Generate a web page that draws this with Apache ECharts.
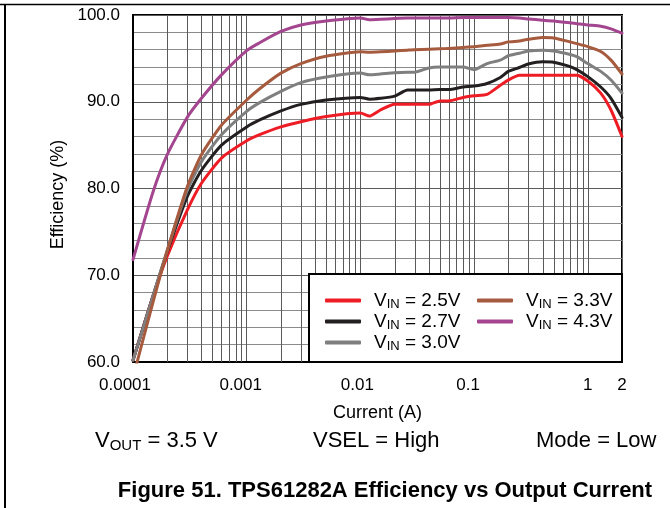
<!DOCTYPE html>
<html>
<head>
<meta charset="utf-8">
<script src="https://cdn.jsdelivr.net/npm/echarts@6/dist/echarts.min.js"></script>
<style>
html,body{margin:0;padding:0;background:#fff;}
#chart{width:670px;height:508px;}
</style>
</head>
<body>
<div id="chart"></div>
<script>
// ---- Data ----
const currents = [0.0001, 0.00015, 0.0002, 0.0003, 0.0004, 0.0006, 0.001, 0.0013, 0.002, 0.003, 0.005,
  0.01, 0.012, 0.015, 0.02, 0.026, 0.03, 0.04, 0.05, 0.06, 0.08, 0.1, 0.13, 0.17, 0.2, 0.25, 0.3,
  0.4, 0.5, 0.7, 0.8, 1.0, 1.3, 1.6, 2.0];

const effVin25 = [60.2, 67.6, 72.2, 77.5, 80.6, 83.5, 85.5, 86.2, 87.1, 87.7, 88.3,
  88.7, 88.35, 89.05, 89.7, 89.7, 89.7, 89.7, 90.1, 90.1, 90.5, 90.7, 90.85, 91.9, 92.5, 93.05, 93.05,
  93.05, 93.05, 93.05, 93.05, 92.4, 91.0, 89.05, 86.0];

const effVin27 = [60.2, 67.6, 72.7, 79.05, 82.1, 85.0, 87.1, 87.9, 88.95, 89.7, 90.2,
  90.5, 90.3, 90.4, 90.65, 91.35, 91.35, 91.35, 91.4, 91.4, 91.7, 91.8, 92.1, 92.8, 93.5, 93.95, 94.35,
  94.6, 94.55, 94.05, 93.7, 92.9, 91.7, 90.4, 88.2];

const effVin30 = [60.2, 67.6, 72.9, 79.8, 83.1, 86.2, 88.9, 89.9, 91.2, 92.2, 92.85,
  93.3, 93.1, 93.2, 93.35, 93.4, 93.4, 93.9, 94.0, 94.0, 94.0, 93.7, 94.4, 94.8, 95.3, 95.6, 95.85,
  95.95, 95.85, 95.45, 95.2, 94.4, 93.5, 92.5, 91.0];

const effVin33 = [58.2, 66.9, 72.8, 80.2, 83.9, 87.3, 90.2, 91.5, 93.3, 94.4, 95.25,
  95.75, 95.7, 95.75, 95.85, 95.95, 96.0, 96.05, 96.1, 96.15, 96.25, 96.35, 96.5, 96.65, 96.9, 97.0, 97.2,
  97.4, 97.35, 96.9, 96.7, 96.35, 95.8, 94.8, 93.2];

const effVin43 = [71.8, 79.6, 83.9, 88.2, 90.4, 93.1, 95.9, 96.8, 98.1, 98.85, 99.3,
  99.65, 99.45, 99.5, 99.6, 99.65, 99.65, 99.65, 99.65, 99.65, 99.7, 99.7, 99.7, 99.7, 99.7, 99.65, 99.55,
  99.4, 99.3, 99.1, 99.0, 98.85, 98.7, 98.4, 97.9];

const seriesNames = ['2.5V', '2.7V', '3.0V', '3.3V', '4.3V'];
const seriesData = [effVin25, effVin27, effVin30, effVin33, effVin43];
const seriesColors = ['#ee1d25', '#231f20', '#7f7f7f', '#a65a3e', '#a3458f'];

const yTicks = [60, 70, 80, 90, 100];
const decadeStarts = [0.0001, 0.001, 0.01, 0.1, 1];
const minorMultipliers = [2, 3, 4, 5, 6, 7, 8, 9];

// ---- Build options ----
const FONT = '"Liberation Sans", Arial, Helvetica, sans-serif';
const xMin = 0.0001, xMax = 2;
const yMin = yTicks[0], yMax = yTicks[yTicks.length - 1];
const minorGridCurrents = [];
decadeStarts.forEach(d => minorMultipliers.forEach(m => {
  const v = Number((d * m).toPrecision(3));
  if (v < xMax) minorGridCurrents.push(v);
}));

const richSub = {
  n: { fontSize: 19, fontFamily: FONT, color: '#000', lineHeight: 21 },
  s: { fontSize: 13, fontFamily: FONT, color: '#000', lineHeight: 10, verticalAlign: 'bottom' }
};

// x tick label nudges (label style only)
const xLabelPad = { '0.0001': 16, '0.001': 12, '0.01': 6, '0.1': 12 };
const xLabelRich = {};
Object.keys(xLabelPad).forEach((k, i) => {
  xLabelRich['p' + i] = { fontSize: 17, fontFamily: FONT, color: '#000', padding: [0, xLabelPad[k], 0, 0] };
});

const lineSeries = seriesNames.map((name, i) => ({
  name: name,
  type: 'line',
  data: currents.map((c, k) => [c, seriesData[i][k]]),
  showSymbol: false,
  symbol: 'none',
  smooth: 0.2,
  z: 5 + i,
  lineStyle: { color: seriesColors[i], width: 3, cap: 'round', join: 'round' },
  itemStyle: { color: seriesColors[i] },
  emphasis: { disabled: true }
}));

const gridSeries = {
  name: 'minorGrid',
  type: 'custom',
  z: 1,
  silent: true,
  clip: true,
  data: minorGridCurrents.map(v => [v, yMin]),
  encode: { x: 0, y: 1 },
  renderItem: (params, api) => {
    const v = api.value(0);
    const p1 = api.coord([v, yMin]);
    const p2 = api.coord([v, yMax]);
    const x = Math.round(p1[0]) + 0.5;
    return {
      type: 'line',
      shape: { x1: x, y1: p1[1], x2: x, y2: p2[1] },
      style: { stroke: '#5a5a5a', lineWidth: 1 }
    };
  }
};

const legendCommon = {
  orient: 'vertical',
  icon: 'roundRect',
  itemWidth: 36,
  itemHeight: 4,
  itemGap: 1,
  selectedMode: false,
  z: 60,
  formatter: name => '{n|V}{s|IN}{n| = ' + name + '}',
  textStyle: { padding: [0, 0, 0, 8], rich: richSub }
};

const option = {
  animation: false,
  backgroundColor: '#fff',
  grid: {
    left: 133, right: 48, top: 15, bottom: 146,
    show: true, borderColor: '#000', borderWidth: 2,
    outerBoundsMode: 'none', containLabel: false
  },
  xAxis: {
    type: 'log',
    logBase: 10,
    min: xMin,
    max: xMax,
    name: 'Current (A)',
    nameLocation: 'middle',
    nameGap: 42,
    nameTextStyle: { fontSize: 18, fontFamily: FONT, color: '#000' },
    axisLine: { show: true, lineStyle: { color: '#000', width: 2 } },
    axisTick: { show: false },
    axisLabel: {
      fontSize: 17, fontFamily: FONT, color: '#000', margin: 15,
      showMinLabel: true, showMaxLabel: true,
      rich: xLabelRich,
      formatter: v => {
        const s = String(Number(Number(v).toPrecision(6)));
        const idx = Object.keys(xLabelPad).indexOf(s);
        return idx >= 0 ? '{p' + idx + '|' + s + '}' : s;
      }
    },
    splitLine: { show: true, lineStyle: { color: '#5a5a5a', width: 1 } }
  },
  yAxis: {
    type: 'value',
    min: yMin,
    max: yMax,
    interval: 10,
    name: 'Efficiency (%)',
    nameLocation: 'middle',
    nameGap: 57,
    nameTextStyle: { fontSize: 18, fontFamily: FONT, color: '#000', padding: [0, 12, 0, 0] },
    axisLine: { show: true, lineStyle: { color: '#000', width: 2 } },
    axisTick: { show: false },
    axisLabel: {
      fontSize: 17, fontFamily: FONT, color: '#000', margin: 13,
      formatter: v => Number(v).toFixed(1)
    },
    splitLine: { show: true, lineStyle: { color: '#5a5a5a', width: 1 } },
    minorTick: { show: false, splitNumber: 5 },
    minorSplitLine: { show: true, lineStyle: { color: '#8a8a8a', width: 1 } }
  },
  legend: [
    Object.assign({}, legendCommon, { left: 320, top: 286, data: seriesNames.slice(0, 3) }),
    Object.assign({}, legendCommon, { left: 472, top: 286, data: seriesNames.slice(3) })
  ],
  graphic: [
    { type: 'rect', z: 50, silent: true,
      shape: { x: 309, y: 274, width: 313, height: 88 },
      style: { fill: '#fff', stroke: '#000', lineWidth: 2 } },
    { type: 'line', z: 50, silent: true,
      shape: { x1: 0, y1: 4.5, x2: 670, y2: 4.5 },
      style: { stroke: '#000', lineWidth: 1.5 } },
    { type: 'line', z: 50, silent: true,
      shape: { x1: 5, y1: 4, x2: 5, y2: 508 },
      style: { stroke: '#000', lineWidth: 2 } },
    { type: 'text', z: 50, silent: true, x: 95, y: 441,
      style: { text: '{n|V}{s|OUT}{n| = 3.5 V}', verticalAlign: 'middle', align: 'left',
        rich: { n: { fontSize: 22, fontFamily: FONT, fill: '#000', lineHeight: 25 },
                s: { fontSize: 15, fontFamily: FONT, fill: '#000', lineHeight: 12, verticalAlign: 'bottom' } } } },
    { type: 'text', z: 50, silent: true, x: 313, y: 441,
      style: { text: 'VSEL = High', fontSize: 22, fontFamily: FONT, fill: '#000', verticalAlign: 'middle', align: 'left' } },
    { type: 'text', z: 50, silent: true, x: 536, y: 441,
      style: { text: 'Mode = Low', fontSize: 22, fontFamily: FONT, fill: '#000', verticalAlign: 'middle', align: 'left' } },
    { type: 'text', z: 50, silent: true, x: 385, y: 491,
      style: { text: 'Figure 51. TPS61282A Efficiency vs Output Current', fontSize: 22, fontWeight: 'bold',
        fontFamily: FONT, fill: '#000', verticalAlign: 'middle', align: 'center' } }
  ],
  series: [gridSeries].concat(lineSeries)
};

const chart = echarts.init(document.getElementById('chart'), null, { renderer: 'canvas', width: 670, height: 508 });
chart.setOption(option);
</script>
</body>
</html>
